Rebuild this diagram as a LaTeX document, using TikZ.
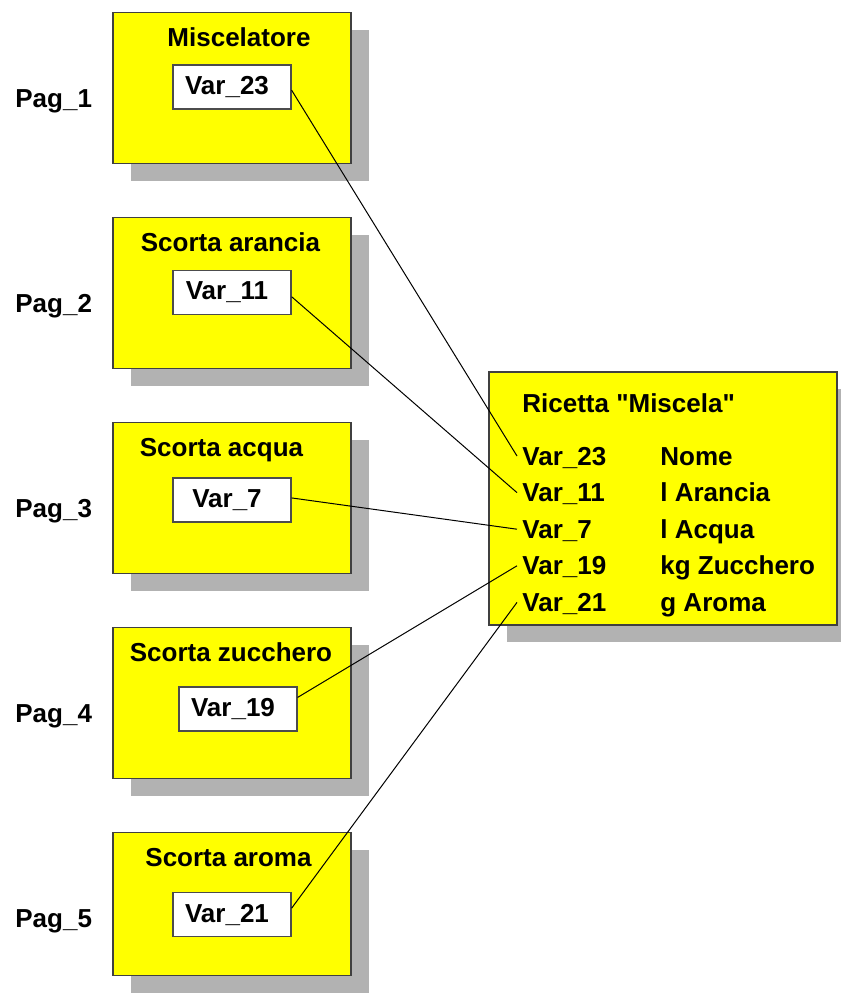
\documentclass[tikz,border=0pt]{standalone}
\usepackage{fontspec}
\setmainfont{Liberation Sans}[Ligatures=TeXOff]
\usetikzlibrary{math,shadows}

\definecolor{pageyellow}{RGB}{255,255,0}
\definecolor{shadowgray}{RGB}{178,178,178}

\tikzset{
  every node/.style={font=\fontsize{13}{15}\selectfont\bfseries},
  pagebox/.style={draw=black!75, line width=0.6pt, fill=pageyellow, minimum width=119pt, inner sep=0pt,
    drop shadow={shadow xshift=9pt, shadow yshift=-8.5pt, fill=shadowgray, opacity=1}},
  varbox/.style={draw=black!70, line width=0.6pt, fill=white, minimum width=59pt, minimum height=22pt,
    inner sep=0pt, execute at end node=\hspace{5pt}},
  rowlabel/.style={anchor=base west, inner xsep=2.5pt, text height=0.9em, text depth=0pt},
  link/.style={line width=0.5pt}
}

\begin{document}
\begin{tikzpicture}[x=0.5pt,y=-0.5pt]
\useasboundingbox (0,0) rectangle (841,993);

\tikzmath{
\boxx = 232;
\rowx = 517;
\colx = 660;
\rowtop = 465;
\rowstep = 36.6;
}

% the recipe
\node[pagebox, minimum width=174pt, minimum height=126.5pt] (recipe) at (663,498.5) {};
\node[anchor=base west, inner sep=0pt] (rtitle) at (522,412) {Ricetta "Miscela"};

\foreach \n/\what [count=\k from 0] in {23/Nome, 11/l Arancia, 7/l Acqua, 19/kg Zucchero, 21/g Aroma}
{
  \node[rowlabel] (row\n) at (\rowx, \rowtop + \k*\rowstep) {Var\_\n};
  \node[anchor=base west, inner sep=0pt] (what\n) at (\colx, \rowtop + \k*\rowstep) {\what};
}

% one page per storage
\foreach \i/\top/\h/\tx/\n/\vx/\vy/\title in {
  1/12/151/239/23/232/87/Miscelatore,
  2/217/151/230.5/11/232/292.5/Scorta arancia,
  3/422/151/221.5/7/232/500/Scorta acqua,
  4/627/151/231/19/238/709/Scorta zucchero,
  5/832/143/228.5/21/232/914.5/Scorta aroma}
{
  \node[pagebox, minimum height=\h*0.5pt, anchor=north] (page\i) at (\boxx,\top) {};
  \node[anchor=base, inner sep=0pt] (title\i) at (\tx,\top+34) {\title};
  \node[varbox] (var\n) at (\vx,\vy) {Var\_\n};
  \node[anchor=base west, inner sep=0pt] (pag\i) at (15,\top+95) {Pag\_\i};
}

\foreach \n/\out in {23/-3, 11/-4, 7/2, 19/11, 21/6}
  \draw[link] (var\n.\out) -- (row\n.west);

\end{tikzpicture}
\end{document}
